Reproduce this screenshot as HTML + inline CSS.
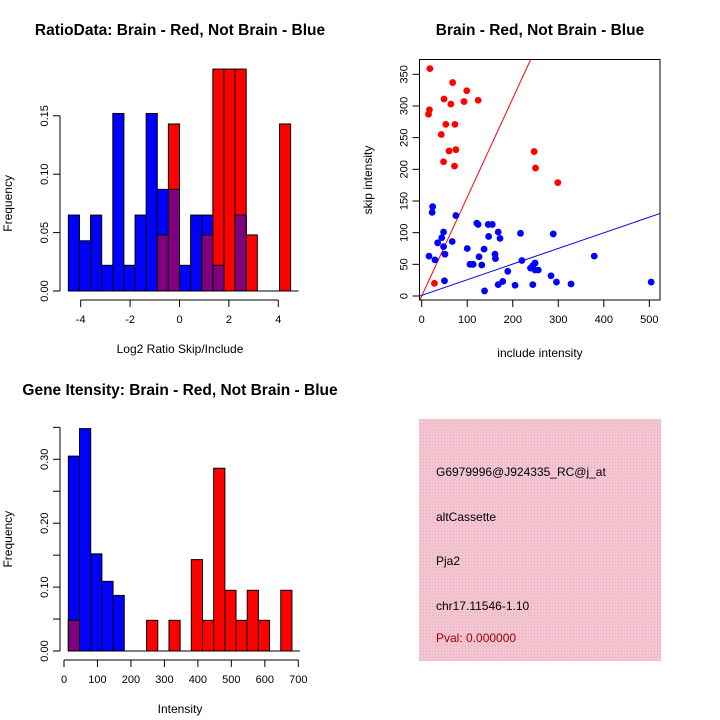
<!DOCTYPE html>
<html><head><meta charset="utf-8">
<style>
html,body{margin:0;padding:0;background:#fff;}
svg{display:block;font-family:"Liberation Sans",Helvetica,Arial,sans-serif;}
.tk{font-size:11px;fill:#000;}
.lab{font-size:12px;fill:#000;}
.ttl{font-size:15.5px;font-weight:bold;fill:#000;}
</style></head>
<body>
<svg id="chart" width="720" height="720" viewBox="0 0 720 720" xmlns="http://www.w3.org/2000/svg">
<defs>
<pattern id="hatch" width="3" height="3" patternUnits="userSpaceOnUse">
<rect width="3" height="3" fill="#f4c4d0"/>
<rect width="1" height="1" fill="#e6b0c0"/>
</pattern>
</defs>
<g id="g1"></g>
<g id="g2"></g>
<g id="g3"></g>
<g id="g4">
<rect x="419" y="419" width="242" height="242" fill="url(#hatch)"/>
<text x="436" y="476" class="lab">G6979996@J924335_RC@j_at</text>
<text x="436" y="521" class="lab">altCassette</text>
<text x="436" y="565" class="lab">Pja2</text>
<text x="436" y="610" class="lab">chr17.11546-1.10</text>
<text x="436" y="642" class="lab" fill="#a00000" style="fill:#a00000">Pval: 0.000000</text>
</g>
</svg>
<script>
// ---- Ratio histogram data ----
const ratioBreakStart = -4.5;
const ratioBinWidth = 0.45;
const ratioBlue = [0.065,0.043,0.065,0.022,0.152,0.022,0.065,0.152,0.087,0.087,0.022,0.065,0.065,0.022,0,0.065,0,0,0,0];
const ratioRed  = [0,0,0,0,0,0,0,0,0.048,0.143,0,0,0.048,0.19,0.19,0.19,0.048,0,0,0.143];
const ratioXTicks = [-4,-2,0,2,4];
const ratioYTicks = [0,0.05,0.10,0.15];
const ratioYLabels = ["0.00","0.05","0.10","0.15"];
// ---- Scatter data ----
const redInclude = [18,17,15,49,68,64,99,93,124,53,73,43,60,75,48,72,28,247,250,299];
const redSkip    = [359,294,287,311,337,303,324,307,309,271,271,255,229,231,212,205,20,228,202,179];
const blueInclude = [24,23,16,29,35,44,48,48,51,50,67,75,100,121,124,126,106,113,132,137,138,146,155,147,161,162,168,172,168,178,189,205,217,220,239,244,249,249,256,244,284,289,296,328,379,504];
const blueSkip    = [141,132,63,57,84,92,101,78,66,24,86,127,75,115,113,62,50,50,49,74,8,113,113,94,66,59,101,91,18,23,39,17,99,56,44,48,52,41,41,18,32,98,22,19,63,22];
const redSlope = 1.56, redIntercept = 0;
const blueSlope = 0.247, blueIntercept = 1;
const scXTicks = [0,100,200,300,400,500];
const scYTicks = [0,50,100,150,200,250,300,350];
// ---- Intensity histogram data ----
const intBreakStart = 13;
const intBinWidth = 33.4;
const intBlue = [0.305,0.348,0.152,0.109,0.087,0,0,0,0,0,0,0,0,0,0,0,0,0,0,0];
const intRed  = [0.048,0,0,0,0,0,0,0.048,0,0.048,0,0.143,0.048,0.286,0.095,0.048,0.095,0.048,0,0.095];
const intXTicks = [0,100,200,300,400,500,600,700];
const intYTicks = [0,0.05,0.10,0.15,0.20,0.25,0.30,0.35];
const intYLabels = ["0.00","","0.10","","0.20","","0.30",""];

const NS="http://www.w3.org/2000/svg";
function mk(parent,tag,attrs,txt){const e=document.createElementNS(NS,tag);for(const k in attrs)e.setAttribute(k,attrs[k]);if(txt!==undefined)e.textContent=txt;parent.appendChild(e);return e;}

function histogram(g,o){
  const sx=v=>o.x0+(v-o.xv0)*o.kx, sy=v=>o.y0-v*o.ky;
  const n=o.blue.length;
  for(let i=0;i<n;i++){
    const a=o.start+i*o.bw,b=a+o.bw;
    const x=sx(a),w=sx(b)-sx(a);
    const bl=o.blue[i],rd=o.red[i],mn=Math.min(bl,rd);
    if(bl>0){const r=mk(g,'rect',{x:x,y:sy(bl),width:w,height:sy(0)-sy(bl),fill:'#0000ff',stroke:'#000','stroke-width':1});
      
      }
    if(rd>0){const r=mk(g,'rect',{x:x,y:sy(rd),width:w,height:sy(0)-sy(rd),fill:'#ff0000',stroke:'#000','stroke-width':1});
      
      }
    if(mn>0){const r=mk(g,'rect',{x:x,y:sy(mn),width:w,height:sy(0)-sy(mn),fill:'#800080',stroke:'#000','stroke-width':1});
      
      }
  }
  const bl=mk(g,'line',{x1:sx(o.start),x2:sx(o.start+n*o.bw)+8,y1:sy(0),y2:sy(0),stroke:'#000'});
  
  
  const yt=o.yticks;
  const ya=mk(g,'line',{x1:o.yaxX,x2:o.yaxX,y1:sy(yt[0]),y2:sy(yt[yt.length-1]),stroke:'#000'});
  
  
  yt.forEach((v,i)=>{mk(g,'line',{x1:o.yaxX-7,x2:o.yaxX,y1:sy(v),y2:sy(v),stroke:'#000'});
    if(o.ylabels[i]){const y=sy(v);const t=mk(g,'text',{x:o.yaxX-12,y:y,class:'tk','text-anchor':'middle',transform:`rotate(-90 ${o.yaxX-12} ${y})`},o.ylabels[i]);
      
      }});
  const xt=o.xticks;
  const xa=mk(g,'line',{x1:sx(xt[0]),x2:sx(xt[xt.length-1]),y1:o.xaxY,y2:o.xaxY,stroke:'#000'});
  
  
  xt.forEach(v=>{mk(g,'line',{x1:sx(v),x2:sx(v),y1:o.xaxY,y2:o.xaxY+7,stroke:'#000'});
    const t=mk(g,'text',{x:sx(v),y:o.xaxY+23,class:'tk','text-anchor':'middle'},String(v));
    
    });
  const t1=mk(g,'text',{x:o.titleX,y:o.titleY,class:'ttl','text-anchor':'middle'},o.title);
  
  
  const t2=mk(g,'text',{x:o.xlabX,y:o.xaxY+53,class:'lab','text-anchor':'middle'},o.xlab);
  
  
  const cy=(o.y0+sy(yt[yt.length-1]))/2;
  const t3=mk(g,'text',{x:12,y:cy,class:'lab','text-anchor':'middle',transform:`rotate(-90 12 ${cy})`},'Frequency');
  
  
}

histogram(document.getElementById('g1'),{x0:179.5,xv0:0,kx:24.7,y0:291,ky:1168,start:ratioBreakStart,bw:ratioBinWidth,
  blue:ratioBlue,red:ratioRed,yticks:ratioYTicks,ylabels:ratioYLabels,xticks:ratioXTicks,yaxX:60,xaxY:300,
  title:'RatioData: Brain - Red, Not Brain - Blue',titleX:180,titleY:35,xlab:'Log2 Ratio Skip/Include',xlabX:180});

histogram(document.getElementById('g3'),{x0:64,xv0:0,kx:0.3347,y0:651,ky:639,start:intBreakStart,bw:intBinWidth,
  blue:intBlue,red:intRed,yticks:intYTicks,ylabels:intYLabels,xticks:intXTicks,yaxX:60,xaxY:660,
  title:'Gene Itensity: Brain - Red, Not Brain - Blue',titleX:180,titleY:395,xlab:'Intensity',xlabX:180});

(function(){
  const g=document.getElementById('g2');
  const L=419.5,R=660,T=59.5,B=300;
  const sx=v=>421.7+v*0.4553, sy=v=>296-v*0.6334;
  mk(g,'clipPath',{id:'clip'});
  const cp=g.lastChild; mk(cp,'rect',{x:L,y:T,width:R-L,height:B-T});
  const lines=[[redSlope,redIntercept,'#ff0000','red-fit-line'],[blueSlope,blueIntercept,'#0000ff','blue-fit-line']];
  lines.forEach(([m,c,col,nm])=>{const x1=-20,x2=560;
    const l=mk(g,'line',{x1:sx(x1),y1:sy(c+m*x1),x2:sx(x2),y2:sy(c+m*x2),stroke:col,'stroke-width':1,'clip-path':'url(#clip)'});
    
    });
  redInclude.forEach((v,i)=>{const p=mk(g,'circle',{cx:sx(v),cy:sy(redSkip[i]),r:3.4,fill:'#ff0000'});
    
    });
  blueInclude.forEach((v,i)=>{const p=mk(g,'circle',{cx:sx(v),cy:sy(blueSkip[i]),r:3.4,fill:'#0000ff'});
    
    });
  const box=mk(g,'rect',{x:L,y:T,width:R-L,height:B-T,fill:'none',stroke:'#000'});
  
  
  scXTicks.forEach(v=>{mk(g,'line',{x1:sx(v),x2:sx(v),y1:B,y2:B+7,stroke:'#000'});
    const t=mk(g,'text',{x:sx(v),y:B+23,class:'tk','text-anchor':'middle'},String(v));
    
    });
  scYTicks.forEach(v=>{mk(g,'line',{x1:L-7,x2:L,y1:sy(v),y2:sy(v),stroke:'#000'});
    const y=sy(v);const t=mk(g,'text',{x:L-12,y:y,class:'tk','text-anchor':'middle',transform:`rotate(-90 ${L-12} ${y})`},String(v));
    
    });
  const t1=mk(g,'text',{x:540,y:35,class:'ttl','text-anchor':'middle'},'Brain - Red, Not Brain - Blue');
  
  
  const t2=mk(g,'text',{x:540,y:357,class:'lab','text-anchor':'middle'},'include intensity');
  
  
  const t3=mk(g,'text',{x:372,y:180,class:'lab','text-anchor':'middle',transform:'rotate(-90 372 180)'},'skip intensity');
  
  
})();
</script>
</body></html>
